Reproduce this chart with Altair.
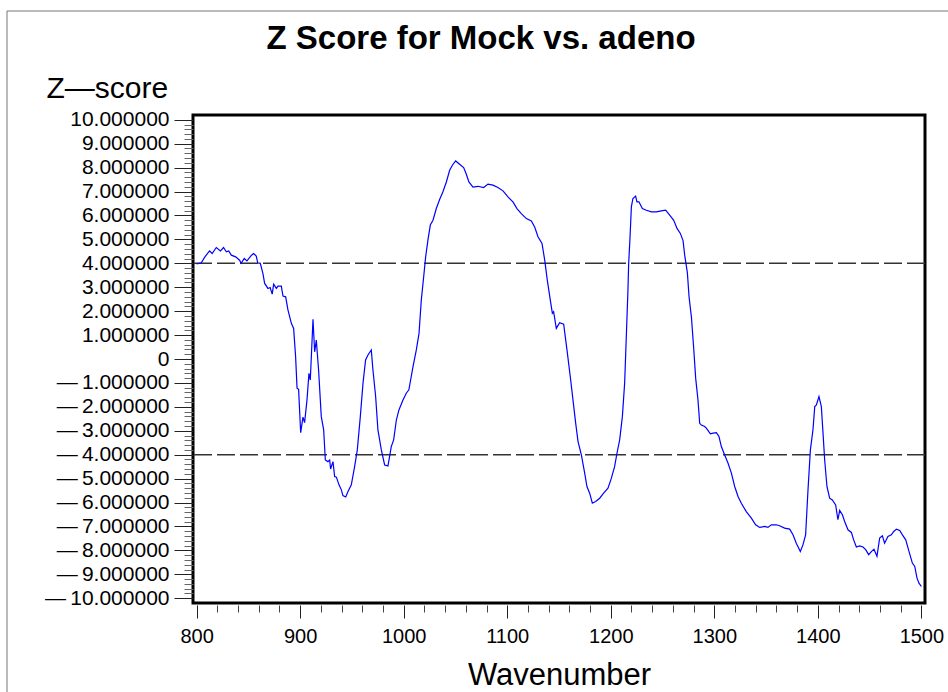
import altair as alt
import pandas as pd

wavenumber = [800, 804.5, 808, 812.5, 815, 819, 823, 826, 828.7, 831, 833.5, 837.7, 841.5, 843, 846, 848.6,
              853, 855, 857.6, 859, 861.5, 864, 865.7, 868.9, 871, 873, 874.4, 877, 878.6, 881.8, 883.4, 886,
              888.2, 891.5, 893.7, 895.6, 897, 898.5, 900.5, 902.7, 904.3, 906.6, 908.5, 909.8, 912.4, 914,
              915.6, 917.8, 920.4, 922.7, 924.3, 926.8, 928.5, 929.4, 931.7, 933.3, 935, 937.5, 939.8, 941.3,
              944, 946.2, 949.4, 952.6, 955.2, 958.1, 960.7, 963.2, 965.5, 968.7, 970.3, 972.9, 975.1, 978.4,
              981.6, 984.8, 988, 990.3, 992.9, 995.4, 999.3, 1002.5, 1005, 1009, 1012.2, 1014.8, 1017, 1019.3,
              1021.2, 1023.4, 1025.7, 1028.3, 1031.5, 1034.7, 1037.9, 1041.2, 1044.4, 1047, 1050.2, 1054,
              1057.9, 1060.5, 1063, 1066.9, 1071.7, 1077.2, 1081.4, 1086.2, 1091, 1095.9, 1100.7, 1105.5,
              1109.4, 1113.6, 1118.5, 1123.3, 1126.5, 1129.7, 1133.6, 1136.2, 1138.7, 1141.6, 1143.6, 1144.8,
              1147.4, 1150.6, 1154.5, 1157.7, 1160.9, 1163.5, 1166.1, 1168.4, 1171.6, 1174.8, 1177, 1179.6,
              1182.2, 1185.4, 1189.3, 1193.1, 1197.3, 1200.6, 1203.7, 1206, 1208.6, 1211.2, 1213.4, 1215,
              1216.6, 1217.3, 1218.5, 1219.9, 1221.4, 1224, 1225.3, 1227.2, 1230.5, 1234.4, 1239.2, 1244,
              1248.9, 1253, 1256.9, 1260.8, 1264, 1267.2, 1269.8, 1271.4, 1274, 1275.6, 1277.9, 1280.1, 1282,
              1284.2, 1285.9, 1287.5, 1290.7, 1292.3, 1296.2, 1298.8, 1302, 1304.5, 1306.8, 1310, 1313.2,
              1316.5, 1319.7, 1322.9, 1326.1, 1330.9, 1335.8, 1339.9, 1343.8, 1348.6, 1351.8, 1355.1, 1359.9,
              1363.1, 1367.9, 1372.8, 1376, 1379.2, 1383.1, 1385.6, 1388.2, 1390.5, 1392.8, 1395.3, 1397,
              1398.6, 1401.1, 1403.4, 1405, 1406.6, 1408.8, 1411.4, 1414, 1417.2, 1419.4, 1421.1, 1423.7,
              1425.9, 1429.1, 1432.4, 1434.6, 1437.2, 1440.4, 1443.6, 1446.2, 1449.1, 1451.7, 1454.2, 1457.1,
              1459.7, 1462.3, 1464.5, 1467.7, 1471, 1473.3, 1475.9, 1479.1, 1481.7, 1484.9, 1488.1, 1491.3,
              1493.6, 1495.8, 1497.7, 1500]

zscore = [3.97, 4.02, 4.27, 4.52, 4.41, 4.66, 4.52, 4.66, 4.48, 4.52, 4.34, 4.27, 4.13, 4.00, 4.20, 4.10,
          4.34, 4.41, 4.30, 4.02, 4.00, 3.58, 3.16, 2.95, 2.99, 2.71, 3.13, 2.95, 3.05, 3.05, 2.63, 2.60,
          2.05, 1.49, 1.28, 0.10, -1.22, -1.27, -3.08, -2.43, -2.66, -1.71, -0.60, -0.88, 1.66, 0.30,
          0.79, -0.46, -2.41, -2.96, -4.22, -4.29, -4.22, -4.60, -4.29, -4.91, -4.94, -5.26, -5.47, -5.71,
          -5.77, -5.54, -5.26, -4.50, -3.80, -2.41, -1.01, -0.04, 0.17, 0.38, -0.46, -1.57, -2.96, -3.80,
          -4.43, -4.47, -3.66, -3.38, -2.55, -2.13, -1.71, -1.43, -1.29, -0.32, 0.38, 1.07, 2.46, 3.44,
          4.27, 4.97, 5.60, 5.80, 6.29, 6.67, 6.99, 7.40, 7.89, 8.10, 8.28, 8.14,
          8.00, 7.72, 7.40, 7.19, 7.22, 7.17, 7.31, 7.27, 7.17, 7.03, 6.78, 6.57,
          6.29, 6.08, 5.87, 5.77, 5.52, 5.11, 4.83, 4.13, 3.30, 2.46, 1.91, 1.98,
          1.28, 1.52, 1.46, 0.38, -0.74, -1.71, -2.68, -3.45, -4.01, -4.77, -5.33, -5.61,
          -6.03, -5.96, -5.82, -5.61, -5.40, -4.98, -4.50, -3.94, -3.38, -2.41, -1.01, 0.93,
          2.88, 4.00, 5.00, 6.36, 6.71, 6.81, 6.57, 6.57, 6.29, 6.22, 6.15, 6.15,
          6.19, 6.22, 6.01, 5.80, 5.46, 5.25, 4.95, 4.34, 3.60, 2.60, 1.75, 0.45, -0.80,
          -1.70, -2.69, -2.76, -2.82, -2.89, -3.13, -3.10, -3.08, -3.24, -3.66, -4.01, -4.35,
          -4.77, -5.33, -5.75, -6.03, -6.38, -6.65, -6.93, -7.04, -7.00, -7.04, -6.93, -6.93,
          -6.97, -7.07, -7.11, -7.35, -7.70, -8.05, -7.77, -7.35, -5.47, -3.80, -2.96, -1.99,
          -1.92, -1.57, -1.99, -3.10, -4.22, -5.33, -5.82, -5.89, -6.10, -6.72, -6.33, -6.51,
          -6.79, -7.14, -7.25, -7.56, -7.86, -7.81, -7.86, -7.97, -8.18, -8.05, -7.95, -8.25,
          -7.49, -7.39, -7.70, -7.42, -7.35, -7.21, -7.11, -7.17, -7.35, -7.56, -8.05, -8.53,
          -8.67, -9.16, -9.37, -9.51]

ref_levels = [4, -4]
x_major_ticks = [800, 900, 1000, 1100, 1200, 1300, 1400, 1500]
x_minor_ticks = [v for v in range(800, 1501, 20) if v % 100 != 0]
y_major_ticks = list(range(-10, 11))
y_minor_ticks = [round(i * 0.2, 1) for i in range(-50, 51) if i % 5 != 0]

df = pd.DataFrame({"wavenumber": wavenumber, "zscore": zscore})
ref_df = pd.DataFrame({"level": ref_levels})

FONT = "Liberation Sans"
xscale = alt.Scale(domain=[796.5, 1503.5], nice=False, zero=False)
yscale = alt.Scale(domain=[-10.2, 10.2], nice=False, zero=False)

y_label_expr = ("datum.value == 0 ? '0' : (datum.value < 0 ? '\u2014\u2009' + format(-datum.value, '.6f') "
                ": format(datum.value, '.6f'))")

x_major = alt.X("wavenumber:Q", scale=xscale,
                axis=alt.Axis(values=x_major_ticks, orient="bottom", format="d", tickSize=13, offset=2,
                              domain=False, grid=False, labelFontSize=20, labelFont=FONT,
                              labelColor="black", tickColor="#222", tickWidth=1, labelPadding=8,
                              title="Wavenumber", titleFont=FONT, titleFontSize=31,
                              titleFontWeight="normal", titleColor="black", titlePadding=14))
y_major = alt.Y("zscore:Q", scale=yscale,
                axis=alt.Axis(values=y_major_ticks, orient="left", labelExpr=y_label_expr, tickSize=19,
                              domain=False, grid=False, labelFontSize=21, labelFont=FONT,
                              labelColor="black", tickColor="#222", tickWidth=1, labelPadding=5,
                              title="Z\u2014score", titleFont=FONT, titleFontSize=30,
                              titleFontWeight="normal", titleColor="black", titleAngle=0,
                              titleAlign="left", titleBaseline="middle", titleX=-147, titleY=-27))

x_minor = alt.X("wavenumber:Q", scale=xscale, title=None,
                axis=alt.Axis(values=x_minor_ticks, orient="bottom", labels=False, tickSize=7, offset=2,
                              domain=False, grid=False, tickColor="#444", tickWidth=1))
y_minor = alt.Y("zscore:Q", scale=yscale, title=None,
                axis=alt.Axis(values=y_minor_ticks, orient="left", labels=False, tickSize=9,
                              domain=False, grid=False, tickColor="#666", tickWidth=1))

rules = alt.Chart(ref_df).mark_rule(color="#333333", strokeDash=[18, 5], strokeWidth=1.5).encode(
    y=alt.Y("level:Q", scale=yscale, axis=None))

line = alt.Chart(df).mark_line(color="#0000ff", strokeWidth=1.2).encode(x=x_major, y=y_major)

minor = alt.Chart(df).mark_line(opacity=0).encode(x=x_minor, y=y_minor)

one = pd.DataFrame({"a": [0]})
top_border = alt.Chart(one).mark_rule(color="#777777", strokeWidth=1).encode(
    x=alt.value(-186), x2=alt.value(755), y=alt.value(-104))
left_border = alt.Chart(one).mark_rule(color="#777777", strokeWidth=1).encode(
    x=alt.value(-186), y=alt.value(-104), y2=alt.value(577))

chart = alt.layer(top_border, left_border, rules, line, minor).resolve_axis(
    x="independent", y="independent"
).properties(
    width=732, height=488,
    padding={"left": 193, "top": 115, "right": 23, "bottom": 89},
    autosize=alt.AutoSizeParams(type="none"),
    title=alt.TitleParams("Z Score for Mock vs. adeno", font=FONT, fontSize=33, fontWeight="bold",
                          color="black", anchor="middle", dx=-78, offset=0, dy=45),
    background="white",
).configure_view(stroke="black", strokeWidth=3)

chart.save("out.html", embed_options={"renderer": "svg", "actions": False})
